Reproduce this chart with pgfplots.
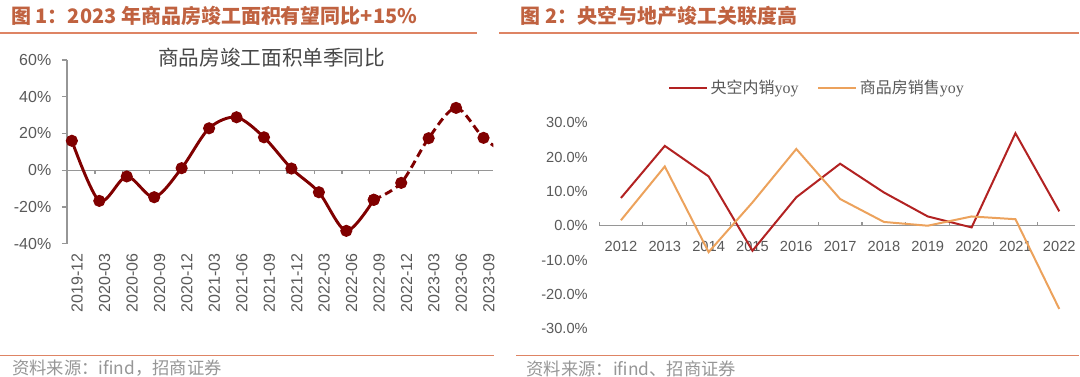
\documentclass[border=0pt]{standalone}
\usepackage{fontspec}
\setmainfont{Liberation Sans}
\newfontfamily\cjk{Noto Sans CJK SC}
\newfontfamily\serif{Liberation Serif}
\usepackage{pgfplots}
\pgfplotsset{compat=1.18}
\definecolor{ttl}{RGB}{192,98,64}
\definecolor{rulec}{RGB}{222,132,100}
\definecolor{lbl}{RGB}{89,89,89}
\definecolor{axg}{RGB}{150,150,150}
\definecolor{dred}{RGB}{128,0,0}
\definecolor{cred}{RGB}{178,34,34}
\definecolor{corange}{RGB}{236,162,92}
\definecolor{srcc}{RGB}{150,150,150}
\begin{document}
\begin{tikzpicture}
\begin{scope}[x=0.75pt,y=0.75pt]
\useasboundingbox (0,0) rectangle (1080,377);
% headings
\node[anchor=west, text=ttl, font=\cjk\bfseries\fontsize{15}{18}\selectfont, inner sep=0pt] at (11,361) {图 1：2023 年商品房竣工面积有望同比+15\%};
\node[anchor=west, text=ttl, font=\cjk\bfseries\fontsize{15}{18}\selectfont, inner sep=0pt] at (521,361) {图 2：央空与地产竣工关联度高};
\draw[rulec, line width=1.5pt] (0,344) -- (478,344);
\draw[rulec, line width=1.5pt] (500,344) -- (1080,344);
\draw[rulec, line width=1.2pt] (0,21) -- (495,21);
\draw[rulec, line width=1.2pt] (517,21) -- (1080,21);
\node[anchor=west, text=srcc, font=\cjk\fontsize{13}{15}\selectfont, inner sep=0pt] at (12,8) {资料来源：ifind，招商证券};
\node[anchor=west, text=srcc, font=\cjk\fontsize{13}{15}\selectfont, inner sep=0pt] at (527,8) {资料来源：ifind、招商证券};
\node[text=lbl!80!black, font=\cjk\fontsize{15.5}{18}\selectfont, inner sep=0pt] at (272,319) {商品房竣工面积单季同比};
\end{scope}

% left chart
\begin{axis}[at={(50.25pt,99.75pt)}, anchor=south west, scale only axis,
 width=320.25pt, height=138pt,
 xmin=-0.18, xmax=15.36, ymin=-40, ymax=60,
 axis y line*=left, axis x line*=bottom,
 axis line style={axg, line width=0.9pt, -},
 x axis line style={draw=none},
 ytick={-40,-20,0,20,40,60},
 yticklabel={\pgfmathprintnumber{\tick}\%},
 xtick={0,...,15},
 xticklabels={2019-12,2020-03,2020-06,2020-09,2020-12,2021-03,2021-06,2021-09,2021-12,2022-03,2022-06,2022-09,2022-12,2023-03,2023-06,2023-09},
 x tick style={draw=none},
 y tick style={axg, line width=0.9pt},
 tick align=outside, major tick length=3.75pt,
 xticklabel style={rotate=90, anchor=east, font=\fontsize{12}{12}\selectfont, text=lbl, yshift=-4pt},
 yticklabel style={font=\fontsize{12}{12}\selectfont, text=lbl, xshift=-4.5pt},
 /pgf/number format/assume math mode=true,
]
\draw[axg, line width=0.9pt] (axis cs:-0.18,0) -- (axis cs:15.36,0);
\pgfplotsinvokeforeach{0.84,1.84,2.84,3.84,4.84,5.84,6.84,7.84,8.84,9.84,10.84,11.84,12.84,13.84,14.82}{
 \draw[axg, line width=0.9pt] (axis cs:#1,0) -- ++(0pt,-3pt);
}
\addplot[dred, line width=2.2pt, smooth, mark=*, mark size=3.4pt, mark options={solid, fill=dred}] coordinates {
 (0,16) (1,-16.7) (2,-3.4) (3,-14.7) (4,1.1) (5,22.8) (6,28.8) (7,17.9) (8,0.9) (9,-12) (10,-33) (11,-16.1)
};
\addplot[dred, line width=2.2pt, smooth, dash pattern=on 6pt off 3.5pt, mark=*, mark size=3.4pt, mark options={solid, fill=dred}] coordinates {
 (11,-16.1) (12,-6.9) (13,17.4) (14,33.9) (15,17.6) (16,7)
};
\end{axis}

% right chart
\begin{axis}[at={(449.81pt,36.08pt)}, anchor=south west, scale only axis,
 width=357.75pt, height=154.35pt,
 xmin=-0.5, xmax=10.37, ymin=-30, ymax=30,
 axis lines*=left,
 axis line style={draw=none},
 tick style={draw=none},
 ytick={-30,-20,-10,0,10,20,30},
 yticklabel={\pgfmathprintnumber[fixed,fixed zerofill,precision=1]{\tick}\%},
 xtick={0,...,10},
 xticklabels={2012,2013,2014,2015,2016,2017,2018,2019,2020,2021,2022},
 xticklabel style={font=\fontsize{11}{12}\selectfont, text=lbl, anchor=north, yshift=68.9pt},
 yticklabel style={font=\fontsize{11}{12}\selectfont, text=lbl, xshift=-5pt},
 /pgf/number format/assume math mode=true,
 legend columns=2,
 legend style={at={(0.458,1.17)}, anchor=center, draw=none, fill=none,
   font=\fontsize{12}{14}\selectfont, text=lbl,
   /tikz/every even column/.append style={column sep=12pt}},
 legend image code/.code={\draw[#1] (0pt,0pt) -- (28.5pt,0pt);},
]
\draw[axg, line width=0.9pt] (axis cs:-0.5,0) -- (axis cs:10.37,0);
\pgfplotsinvokeforeach{-0.5,0.5,1.5,2.5,3.5,4.5,5.5,6.5,7.5,8.5,9.5}{
 \draw[axg, line width=0.9pt] (axis cs:#1,0) -- ++(0pt,3pt);
}
\addplot[cred, line width=1.5pt] coordinates {
 (0,8.1) (1,23.3) (2,14.4) (3,-7.3) (4,8.3) (5,18.1) (6,9.7) (7,2.7) (8,-0.5) (9,27.0) (10,4.2)
};
\addlegendentry{{\cjk 央空内销}{\serif yoy}}
\addplot[corange, line width=1.5pt] coordinates {
 (0,1.6) (1,17.3) (2,-7.7) (3,6.8) (4,22.4) (5,7.8) (6,1.1) (7,0) (8,2.7) (9,1.9) (10,-24.3)
};
\addlegendentry{{\cjk 商品房销售}{\serif yoy}}
\end{axis}
\end{tikzpicture}
\end{document}
